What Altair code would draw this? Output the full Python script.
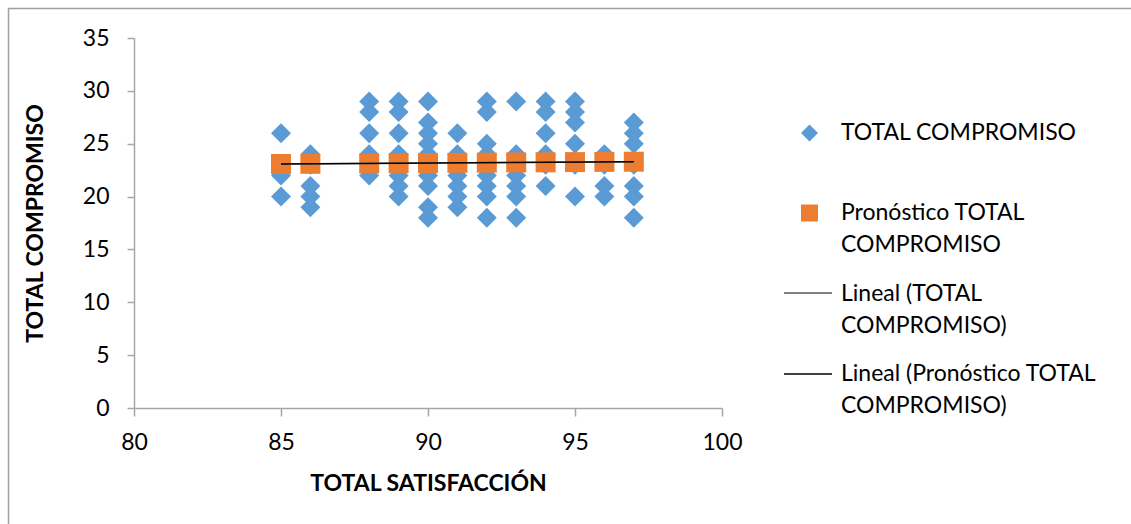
import altair as alt
import pandas as pd

# TOTAL SATISFACCIÓN values (x) and the TOTAL COMPROMISO scores observed at each one
satisfaccion = [85, 86, 88, 89, 90, 91, 92, 93, 94, 95, 96, 97]
compromiso = [
    [26, 23, 22, 20],
    [24, 23, 21, 20, 19],
    [29, 28, 26, 24, 23, 22],
    [29, 28, 26, 24, 23, 22, 21, 20],
    [29, 27, 26, 25, 24, 23, 22, 21, 19, 18],
    [26, 24, 23, 22, 21, 20, 19],
    [29, 28, 25, 24, 23, 22, 21, 20, 18],
    [29, 24, 23, 22, 21, 20, 18],
    [29, 28, 26, 24, 23, 21],
    [29, 28, 27, 25, 23, 20],
    [24, 23, 21, 20],
    [27, 26, 25, 23, 21, 20, 18],
]
# Predicted TOTAL COMPROMISO (linear forecast) at each x
pronostico = [23.08, 23.10, 23.13, 23.15, 23.17, 23.19, 23.21, 23.23, 23.24, 23.26, 23.28, 23.30]

x_ticks = [80, 85, 90, 95, 100]
y_ticks = [0, 5, 10, 15, 20, 25, 30, 35]

BLUE = "#5B9BD5"
ORANGE = "#ED7D31"
AXIS_GRAY = "#a6a6a6"
FONT = "Lato"
FS = 23

W, H = 588, 370
PAD_L, PAD_T = 134, 38

obs = pd.DataFrame(
    [{"sat": s, "comp": c} for s, vals in zip(satisfaccion, compromiso) for c in vals]
)
pred = pd.DataFrame({"sat": satisfaccion, "pron": pronostico})

x_scale = alt.Scale(domain=[80, 100], nice=False, zero=False)
y_scale = alt.Scale(domain=[0, 35], nice=False)

x_axis = alt.Axis(
    values=x_ticks, grid=False, labelFlush=False,
    domainColor=AXIS_GRAY, domainWidth=1.5, tickColor=AXIS_GRAY, tickWidth=1.5,
    tickSize=8, labelFontSize=FS, labelPadding=15, labelColor="black", labelFont=FONT,
    title="TOTAL SATISFACCIÓN", titleFontSize=FS, titleFontWeight="bold", titleFont=FONT,
    titleColor="black", titleX=W / 2, titleY=75, titleBaseline="middle",
)
y_axis = alt.Axis(
    values=y_ticks, grid=False, labelFlush=False,
    domainColor=AXIS_GRAY, domainWidth=1.5, tickColor=AXIS_GRAY, tickWidth=1.5,
    tickSize=7, labelFontSize=FS, labelPadding=18, labelColor="black", labelFont=FONT,
    title="TOTAL COMPROMISO", titleFontSize=FS, titleFontWeight="bold", titleFont=FONT,
    titleColor="black", titleX=-99, titleY=H / 2, titleBaseline="middle",
)

diamonds = alt.Chart(obs).mark_point(
    shape="diamond", filled=True, size=400, color=BLUE, opacity=1, strokeWidth=0
).encode(
    x=alt.X("sat:Q", scale=x_scale, axis=x_axis),
    y=alt.Y("comp:Q", scale=y_scale, axis=y_axis),
)

squares = alt.Chart(pred).mark_point(
    shape="square", filled=True, size=400, color=ORANGE, opacity=1, strokeWidth=0
).encode(
    x=alt.X("sat:Q", scale=x_scale),
    y=alt.Y("pron:Q", scale=y_scale),
)

trend_obs = alt.Chart(pred).transform_regression("sat", "pron").mark_line(
    color="#808080", strokeWidth=1.5
).encode(
    x=alt.X("sat:Q", scale=x_scale),
    y=alt.Y("pron:Q", scale=y_scale),
)
trend_pred = alt.Chart(pred).transform_regression("sat", "pron").mark_line(
    color="black", strokeWidth=1.5
).encode(
    x=alt.X("sat:Q", scale=x_scale),
    y=alt.Y("pron:Q", scale=y_scale),
)

plot = alt.layer(diamonds, squares, trend_obs, trend_pred)

# Legend drawn in pixel space (relative to the plot origin)
legend_text = pd.DataFrame({
    "lx": [707] * 7,
    "ly": [95, 175, 207, 256, 288, 336, 368],
    "label": [
        "TOTAL COMPROMISO",
        "Pronóstico TOTAL", "COMPROMISO",
        "Lineal (TOTAL", "COMPROMISO)",
        "Lineal (Pronóstico TOTAL", "COMPROMISO)",
    ],
})
legend_sym = pd.DataFrame({
    "lx": [675.5, 675.5],
    "ly": [95, 175],
    "kind": ["diamond", "square"],
})
legend_lines = pd.DataFrame({
    "lx": [650, 650],
    "lx2": [698, 698],
    "ly": [255, 336],
    "kind": ["obs", "pred"],
})
frame = pd.DataFrame({
    "lx": [8.5 - PAD_L, 8 - PAD_L],
    "lx2": [8.5 - PAD_L, 1131 - PAD_L],
    "ly": [8 - PAD_T, 8.5 - PAD_T],
    "ly2": [524 - PAD_T, 8.5 - PAD_T],
})

px = lambda f: alt.X(f, scale=None, axis=None)
py = lambda f: alt.Y(f, scale=None, axis=None)

leg_text = alt.Chart(legend_text).mark_text(
    align="left", baseline="middle", font=FONT, fontSize=FS, color="black"
).encode(x=px("lx:Q"), y=py("ly:Q"), text="label:N")

leg_sym = alt.Chart(legend_sym).mark_point(
    filled=True, size=289, opacity=1, strokeWidth=0
).encode(
    x=px("lx:Q"), y=py("ly:Q"),
    shape=alt.Shape("kind:N", scale=alt.Scale(domain=["diamond", "square"], range=["diamond", "square"]), legend=None),
    color=alt.Color("kind:N", scale=alt.Scale(domain=["diamond", "square"], range=[BLUE, ORANGE]), legend=None),
)

leg_lines = alt.Chart(legend_lines).mark_rule(strokeWidth=1.5).encode(
    x=px("lx:Q"), x2="lx2:Q", y=py("ly:Q"),
    color=alt.Color("kind:N", scale=alt.Scale(domain=["obs", "pred"], range=["#595959", "black"]), legend=None),
)

border = alt.Chart(frame).mark_rule(color="#a0a0a0", strokeWidth=1.5).encode(
    x=px("lx:Q"), x2="lx2:Q", y=py("ly:Q"), y2="ly2:Q"
)

overlay = alt.layer(border, leg_lines, leg_sym, leg_text).resolve_scale(color="independent")

chart = alt.layer(plot, overlay).resolve_scale(
    x="independent", y="independent", color="independent", shape="independent"
).properties(
    width=W, height=H,
    padding={"left": PAD_L, "top": PAD_T, "right": 1131 - PAD_L - W, "bottom": 524 - PAD_T - H},
    autosize=alt.AutoSizeParams(type="none"),
    background="white",
).configure_view(stroke=None)

chart.save("out.html", embed_options={"renderer": "svg", "actions": False})
